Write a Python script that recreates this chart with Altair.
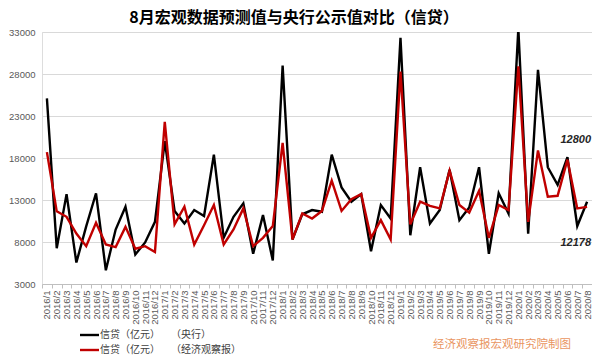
import altair as alt
import pandas as pd

months = [f"{y}/{m}" for y in range(2016, 2021) for m in range(1, 13)][:56]

pboc = [25100, 7266, 13700, 5556, 9855, 13800, 4636, 9487, 12200, 6513, 7946, 10400,
        20000, 11700, 10200, 11800, 11100, 18400, 8500, 11000, 12600, 6600, 11200, 5800,
        29000, 8300, 11300, 11800, 11600, 18400, 14500, 12800, 13700, 6900, 12400, 10800,
        32300, 8800, 16900, 10200, 11800, 16600, 10600, 12100, 16900, 6600, 13800, 11400,
        33400, 9000, 28500, 16900, 14800, 18100, 9900, 12800]

eeo = [18700, 11650, 11000, 9000, 7500, 10300, 7700, 7400, 9800, 7200, 7500, 6800,
       22300, 10100, 12200, 7700, 10000, 12400, 7700, 9500, 12000, 7500, 8500, 9900,
       19800, 8300, 11400, 10800, 11700, 15300, 11700, 13100, 13700, 8500, 10600, 8300,
       28300, 10100, 12800, 12300, 12000, 16500, 12400, 11500, 14100, 8500, 12400, 11800,
       28900, 10400, 18900, 13400, 13500, 17800, 12000, 12178]

series_names = ["央行", "经济观察报"]
series_colors = ["#000000", "#C00000"]
y_ticks = [3000, 8000, 13000, 18000, 23000, 28000, 33000]

title_text = "8月宏观数据预测值与央行公示值对比（信贷）"
legend_main = "信贷（亿元）"
legend_src = ["（央行）", "（经济观察报）"]
annot_hi = "12800"
annot_lo = "12178"
credit_text = "经济观察报宏观研究院制图"

rows = []
for i, m in enumerate(months):
    rows.append({"month": m, "series": series_names[0], "value": pboc[i], "order": 0})
for i, m in enumerate(months):
    rows.append({"month": m, "series": series_names[1], "value": eeo[i], "order": 1})
df = pd.DataFrame(rows)

FONT = "Liberation Sans"
CJK = "Noto Sans CJK SC"

base = alt.Chart(df)

lines = base.mark_line(strokeWidth=2.4, clip=True).encode(
    x=alt.X("month:N", sort=months,
            scale=alt.Scale(type="band", paddingInner=0, paddingOuter=0),
            axis=alt.Axis(title=None, labelAngle=270, tickBand="extent",
                          labelFont=FONT, labelFontSize=9.5, labelColor="#595959",
                          tickColor="#bfbfbf", domainColor="#bfbfbf", tickSize=4,
                          labelPadding=2, grid=False, labelOverlap=False)),
    y=alt.Y("value:Q", scale=alt.Scale(domain=[3000, 33000], nice=False, zero=False),
            axis=alt.Axis(title=None, values=y_ticks, format="d", labelFont=FONT,
                          labelFontSize=9.5, labelColor="#595959", ticks=False,
                          domain=False, labelPadding=7, gridColor="#d9d9d9", gridWidth=1)),
    color=alt.Color("series:N", scale=alt.Scale(domain=series_names, range=series_colors),
                    legend=None),
    order=alt.Order("order:Q"),
)

title = alt.Chart(pd.DataFrame({"t": [title_text]})).mark_text(
    font=CJK, fontSize=16, fontWeight="bold", color="#000000", baseline="middle", align="center"
).encode(x=alt.value(252), y=alt.value(-14.5), text="t:N")

leg_df = pd.DataFrame({
    "main": [legend_main, legend_main],
    "src": legend_src,
    "series": series_names,
    "ypos": [303, 318],
})
leg_lines = alt.Chart(leg_df).mark_rule(strokeWidth=2.4).encode(
    x=alt.value(38), x2=alt.value(57), y=alt.Y("ypos:Q", scale=None),
    color=alt.Color("series:N", scale=alt.Scale(domain=series_names, range=series_colors),
                    legend=None),
)
leg_main = alt.Chart(leg_df).mark_text(
    font=CJK, fontSize=10, color="#404040", align="left", baseline="middle"
).encode(x=alt.value(58), y=alt.Y("ypos:Q", scale=None), text="main:N")
leg_src = alt.Chart(leg_df).mark_text(
    font=CJK, fontSize=10, color="#404040", align="left", baseline="middle"
).encode(x=alt.value(129), y=alt.Y("ypos:Q", scale=None), text="src:N")

ann_df = pd.DataFrame({"t": [annot_hi, annot_lo], "ypos": [108, 211]})
ann = alt.Chart(ann_df).mark_text(
    font=FONT, fontSize=11, fontWeight="bold", fontStyle="italic", color="#262626",
    align="right", baseline="middle"
).encode(x=alt.value(549), y=alt.Y("ypos:Q", scale=None), text="t:N")

credit = alt.Chart(pd.DataFrame({"t": [credit_text]})).mark_text(
    font=CJK, fontSize=11.5, color="#E9955F", align="left", baseline="middle"
).encode(x=alt.value(391), y=alt.value(313), text="t:N")

chart = alt.layer(lines, title, leg_lines, leg_main, leg_src, ann, credit).properties(
    width=550, height=252,
    autosize=alt.AutoSizeParams(type="none"),
    padding={"left": 34, "top": 24, "right": 0, "bottom": 72},
).configure_view(stroke=None).configure(background="#ffffff")

chart.save("out.html", embed_options={"renderer": "svg", "actions": False})
